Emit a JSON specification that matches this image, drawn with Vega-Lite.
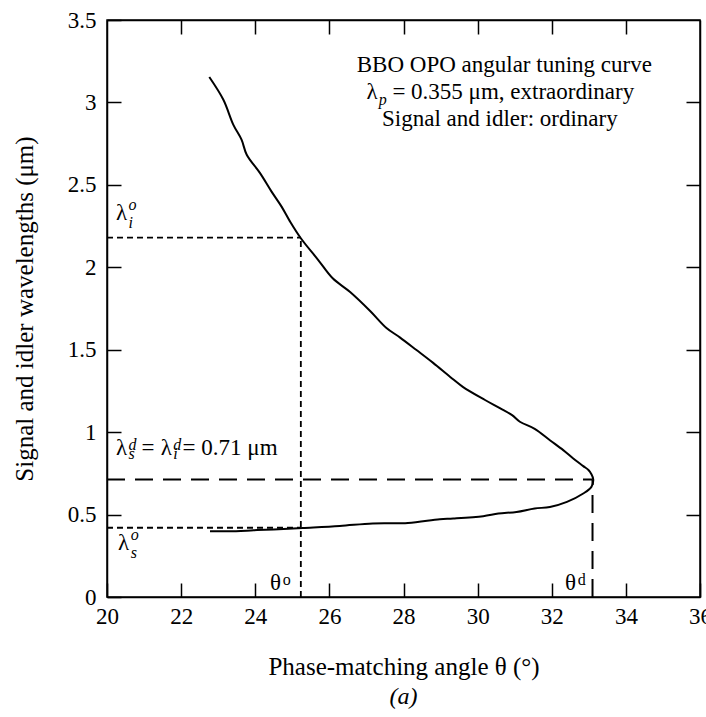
{
  "$schema": "https://vega.github.io/schema/vega-lite/v6.json",
  "width": 593,
  "height": 577,
  "autosize": "none",
  "padding": {"left": 107, "top": 20, "right": 6, "bottom": 120},
  "background": "white",
  "config": {
    "font": "Liberation Serif",
    "view": {"stroke": "black", "strokeWidth": 1.5},
    "axis": {
      "grid": false,
      "domainColor": "black",
      "domainWidth": 1.5,
      "tickColor": "black",
      "tickWidth": 1.5,
      "tickSize": -14,
      "labelFont": "Liberation Serif",
      "labelFontSize": 23,
      "labelColor": "black",
      "labelFlush": false,
      "labelOverlap": false,
      "titleFont": "Liberation Serif",
      "titleFontSize": 25,
      "titleFontWeight": "normal",
      "titleColor": "black"
    },
    "text": {"font": "Liberation Serif", "color": "black"}
  },
  "title": {"text": "(a)", "orient": "bottom", "anchor": "middle", "fontStyle": "italic", "fontWeight": "normal", "fontSize": 24, "font": "Liberation Serif", "color": "black", "offset": 6},
  "datasets": {
    "curve": [
      {"order": 1, "theta": 22.76, "wl": 3.154},
      {"order": 2, "theta": 23.14, "wl": 3.016},
      {"order": 3, "theta": 23.41, "wl": 2.864},
      {"order": 4, "theta": 23.63, "wl": 2.774},
      {"order": 5, "theta": 23.77, "wl": 2.683},
      {"order": 6, "theta": 24.13, "wl": 2.571},
      {"order": 7, "theta": 24.44, "wl": 2.459},
      {"order": 8, "theta": 24.71, "wl": 2.368},
      {"order": 9, "theta": 24.94, "wl": 2.277},
      {"order": 10, "theta": 25.23, "wl": 2.176},
      {"order": 11, "theta": 25.70, "wl": 2.044},
      {"order": 12, "theta": 26.09, "wl": 1.933},
      {"order": 13, "theta": 26.56, "wl": 1.85},
      {"order": 14, "theta": 27.10, "wl": 1.735},
      {"order": 15, "theta": 27.54, "wl": 1.632},
      {"order": 16, "theta": 27.90, "wl": 1.575},
      {"order": 17, "theta": 28.35, "wl": 1.498},
      {"order": 18, "theta": 28.80, "wl": 1.42},
      {"order": 19, "theta": 29.26, "wl": 1.335},
      {"order": 20, "theta": 29.60, "wl": 1.275},
      {"order": 21, "theta": 30.20, "wl": 1.195},
      {"order": 22, "theta": 30.60, "wl": 1.145},
      {"order": 23, "theta": 30.93, "wl": 1.103},
      {"order": 24, "theta": 31.14, "wl": 1.063},
      {"order": 25, "theta": 31.54, "wl": 1.02},
      {"order": 26, "theta": 31.95, "wl": 0.951},
      {"order": 27, "theta": 32.31, "wl": 0.891},
      {"order": 28, "theta": 32.58, "wl": 0.84},
      {"order": 29, "theta": 32.85, "wl": 0.794},
      {"order": 30, "theta": 32.99, "wl": 0.77},
      {"order": 31, "theta": 33.07, "wl": 0.745},
      {"order": 32, "theta": 33.12, "wl": 0.713},
      {"order": 33, "theta": 33.07, "wl": 0.668},
      {"order": 34, "theta": 32.85, "wl": 0.628},
      {"order": 35, "theta": 32.41, "wl": 0.577},
      {"order": 36, "theta": 31.95, "wl": 0.546},
      {"order": 37, "theta": 31.54, "wl": 0.537},
      {"order": 38, "theta": 31.05, "wl": 0.516},
      {"order": 39, "theta": 30.56, "wl": 0.506},
      {"order": 40, "theta": 30.15, "wl": 0.49},
      {"order": 41, "theta": 29.34, "wl": 0.476},
      {"order": 42, "theta": 28.98, "wl": 0.472},
      {"order": 43, "theta": 28.12, "wl": 0.449},
      {"order": 44, "theta": 27.17, "wl": 0.446},
      {"order": 45, "theta": 26.28, "wl": 0.431},
      {"order": 46, "theta": 25.28, "wl": 0.419},
      {"order": 47, "theta": 24.50, "wl": 0.41},
      {"order": 48, "theta": 23.96, "wl": 0.405},
      {"order": 49, "theta": 23.48, "wl": 0.399},
      {"order": 50, "theta": 22.78, "wl": 0.399}
    ],
    "rules": [
      {"x1": 20, "x2": 25.23, "y1": 2.18, "y2": 2.18, "kind": "dotted"},
      {"x1": 25.23, "x2": 25.23, "y1": 0, "y2": 2.18, "kind": "dotted"},
      {"x1": 20, "x2": 25.23, "y1": 0.42, "y2": 0.42, "kind": "dotted"},
      {"x1": 20, "x2": 33.1, "y1": 0.713, "y2": 0.713, "kind": "dashed"},
      {"x1": 33.1, "x2": 33.1, "y1": 0, "y2": 0.713, "kind": "dashed"}
    ],
    "labels": [
      {"x": 30.72, "y": 3.185, "text": "BBO OPO angular tuning curve", "kind": "center"},
      {"x": 27.0, "y": 3.022, "text": "λ", "kind": "left"},
      {"x": 27.33, "y": 2.985, "text": "p", "kind": "script"},
      {"x": 27.7, "y": 3.022, "text": "= 0.355 μm, extraordinary", "kind": "left"},
      {"x": 30.6, "y": 2.858, "text": "Signal and idler: ordinary", "kind": "center"},
      {"x": 20.24, "y": 2.285, "text": "λ", "kind": "left"},
      {"x": 20.58, "y": 2.345, "text": "o", "kind": "script"},
      {"x": 20.58, "y": 2.24, "text": "i", "kind": "script"},
      {"x": 20.24, "y": 0.86, "text": "λ", "kind": "left"},
      {"x": 20.58, "y": 0.893, "text": "d", "kind": "script"},
      {"x": 20.58, "y": 0.835, "text": "s", "kind": "script"},
      {"x": 20.93, "y": 0.86, "text": "=", "kind": "left"},
      {"x": 21.45, "y": 0.86, "text": "λ", "kind": "left"},
      {"x": 21.79, "y": 0.893, "text": "d", "kind": "script"},
      {"x": 21.79, "y": 0.835, "text": "i", "kind": "script"},
      {"x": 22.04, "y": 0.86, "text": "= 0.71 μm", "kind": "left"},
      {"x": 20.30, "y": 0.2835, "text": "λ", "kind": "left"},
      {"x": 20.64, "y": 0.345, "text": "o", "kind": "script"},
      {"x": 20.64, "y": 0.235, "text": "s", "kind": "script"},
      {"x": 24.40, "y": 0.04, "text": "θ", "kind": "left"},
      {"x": 24.74, "y": 0.07, "text": "o", "kind": "supr"},
      {"x": 32.36, "y": 0.04, "text": "θ", "kind": "left"},
      {"x": 32.70, "y": 0.07, "text": "d", "kind": "supr"}
    ]
  },
  "layer": [
    {
      "data": {"name": "curve"},
      "mark": {"type": "line", "color": "black", "strokeWidth": 2, "interpolate": "catmull-rom"},
      "encoding": {
        "x": {"field": "theta", "type": "quantitative", "scale": {"domain": [20, 36], "nice": false, "zero": false},
              "axis": {"orient": "bottom", "values": [20, 22, 24, 26, 28, 30, 32, 34, 36], "format": "d", "labelPadding": 22, "title": "Phase-matching angle θ (°)", "titlePadding": 26}},
        "y": {"field": "wl", "type": "quantitative", "scale": {"domain": [0, 3.5], "nice": false, "zero": false},
              "axis": {"orient": "left", "values": [0, 0.5, 1, 1.5, 2, 2.5, 3, 3.5], "format": "~g", "labelPadding": 25, "title": "Signal and idler wavelengths (μm)", "titlePadding": 30}},
        "order": {"field": "order", "type": "quantitative"}
      }
    },
    {
      "data": {"name": "rules"},
      "transform": [{"filter": "datum.kind === 'dotted'"}],
      "mark": {"type": "rule", "color": "black", "strokeWidth": 1.8, "strokeDash": [6, 4]},
      "encoding": {
        "x": {"field": "x1", "type": "quantitative", "scale": {"domain": [20, 36], "nice": false, "zero": false},
              "axis": {"orient": "top", "values": [22, 24, 26, 28, 30, 32, 34], "labels": false, "title": null}},
        "x2": {"field": "x2"},
        "y": {"field": "y1", "type": "quantitative", "scale": {"domain": [0, 3.5], "nice": false, "zero": false},
              "axis": {"orient": "right", "values": [0.5, 1, 1.5, 2, 2.5, 3], "labels": false, "title": null}},
        "y2": {"field": "y2"}
      }
    },
    {
      "data": {"name": "rules"},
      "transform": [{"filter": "datum.kind === 'dashed'"}],
      "mark": {"type": "rule", "color": "black", "strokeWidth": 2, "strokeDash": [18, 10]},
      "encoding": {
        "x": {"field": "x1", "type": "quantitative", "scale": {"domain": [20, 36], "nice": false, "zero": false}, "axis": null},
        "x2": {"field": "x2"},
        "y": {"field": "y1", "type": "quantitative", "scale": {"domain": [0, 3.5], "nice": false, "zero": false}, "axis": null},
        "y2": {"field": "y2"}
      }
    },
    {
      "data": {"name": "labels"},
      "transform": [{"filter": "datum.kind === 'center'"}],
      "mark": {"type": "text", "align": "center", "baseline": "alphabetic", "fontSize": 23},
      "encoding": {
        "x": {"field": "x", "type": "quantitative", "scale": {"domain": [20, 36], "nice": false, "zero": false}, "axis": null},
        "y": {"field": "y", "type": "quantitative", "scale": {"domain": [0, 3.5], "nice": false, "zero": false}, "axis": null},
        "text": {"field": "text"}
      }
    },
    {
      "data": {"name": "labels"},
      "transform": [{"filter": "datum.kind === 'left'"}],
      "mark": {"type": "text", "align": "left", "baseline": "alphabetic", "fontSize": 23},
      "encoding": {
        "x": {"field": "x", "type": "quantitative", "scale": {"domain": [20, 36], "nice": false, "zero": false}, "axis": null},
        "y": {"field": "y", "type": "quantitative", "scale": {"domain": [0, 3.5], "nice": false, "zero": false}, "axis": null},
        "text": {"field": "text"}
      }
    },
    {
      "data": {"name": "labels"},
      "transform": [{"filter": "datum.kind === 'script'"}],
      "mark": {"type": "text", "align": "left", "baseline": "alphabetic", "fontSize": 16, "fontStyle": "italic"},
      "encoding": {
        "x": {"field": "x", "type": "quantitative", "scale": {"domain": [20, 36], "nice": false, "zero": false}, "axis": null},
        "y": {"field": "y", "type": "quantitative", "scale": {"domain": [0, 3.5], "nice": false, "zero": false}, "axis": null},
        "text": {"field": "text"}
      }
    },
    {
      "data": {"name": "labels"},
      "transform": [{"filter": "datum.kind === 'supr'"}],
      "mark": {"type": "text", "align": "left", "baseline": "alphabetic", "fontSize": 16},
      "encoding": {
        "x": {"field": "x", "type": "quantitative", "scale": {"domain": [20, 36], "nice": false, "zero": false}, "axis": null},
        "y": {"field": "y", "type": "quantitative", "scale": {"domain": [0, 3.5], "nice": false, "zero": false}, "axis": null},
        "text": {"field": "text"}
      }
    }
  ],
  "resolve": {"axis": {"x": "independent", "y": "independent"}}
}
